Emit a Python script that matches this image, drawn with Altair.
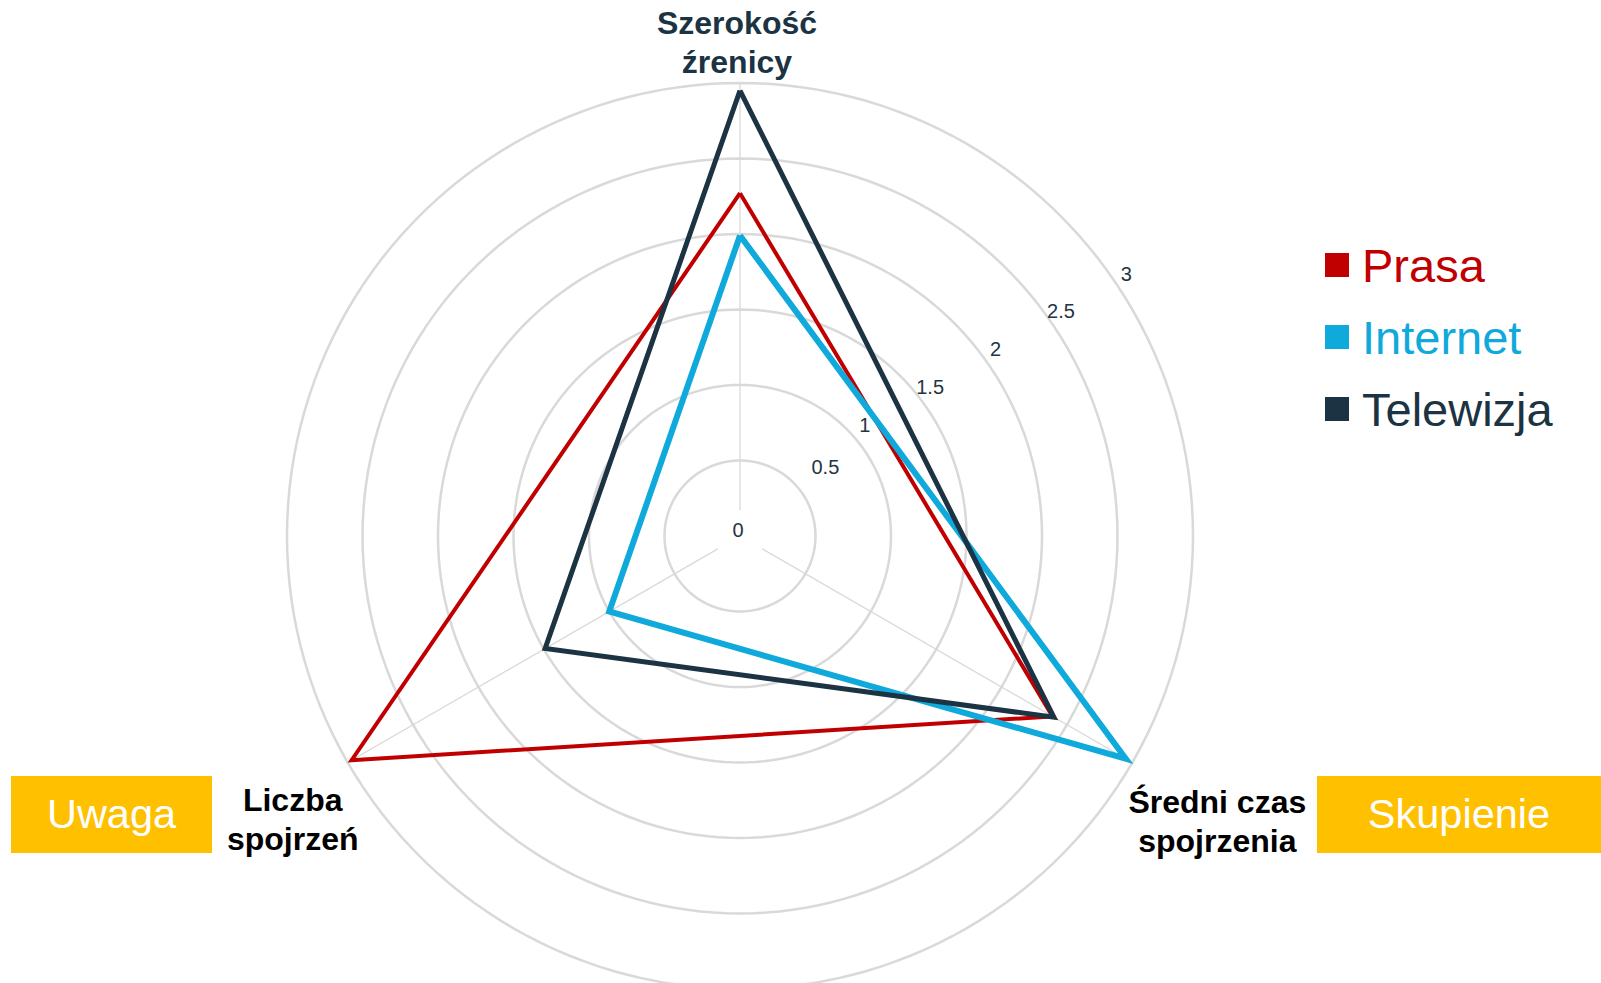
import math
import altair as alt
import pandas as pd

# ---------------- data ----------------
categories = ["Szerokość źrenicy", "Średni czas spojrzenia", "Liczba spojrzeń"]
category_lines = ["Szerokość\nźrenicy", "Średni czas\nspojrzenia", "Liczba\nspojrzeń"]
series = ["Prasa", "Internet", "Telewizja"]
prasa = [2.27, 2.39, 2.97]
internet = [1.99, 2.95, 1.00]
telewizja = [2.95, 2.40, 1.49]
tick_values = [0, 0.5, 1, 1.5, 2, 2.5, 3]
tick_labels = ["0", "0.5", "1", "1.5", "2", "2.5", "3"]
group_labels = ["Uwaga", "Skupienie"]

# ---------------- styling / layout ----------------
colors = ["#C00000", "#0FA9DC", "#1B3342"]
widths = [4, 6, 5]
W, H = 1601, 983
CX, CY = 740, 536      # pixel position of the radar centre
S = 151.0              # pixels per unit
RMAX = 3
FONT = "Liberation Sans"
GRID = "#D9D9D9"

xs = alt.Scale(domain=[-CX / S, (W - CX) / S], nice=False, zero=False)
ys = alt.Scale(domain=[-(H - CY) / S, CY / S], nice=False, zero=False)
angles = [0.0, 120.0, 240.0]  # clockwise from top


def pol(v, deg):
    a = math.radians(deg)
    return v * math.sin(a), v * math.cos(a)


def X(f):
    return alt.X(f, type="quantitative", scale=xs, axis=None)


def Y(f):
    return alt.Y(f, type="quantitative", scale=ys, axis=None)


layers = []

# grid circles
rows = []
for v in tick_values[1:]:
    for k in range(0, 361, 2):
        x, y = pol(v, k)
        rows.append({"ring": v, "k": k, "x": x, "y": y})
rings = pd.DataFrame(rows)
layers.append(
    alt.Chart(rings).mark_line(color=GRID, strokeWidth=2.5, clip=True).encode(
        x=X("x"), y=Y("y"), detail="ring:N", order="k:Q"
    )
)

# spokes
sp = []
for c, a in zip(categories, angles):
    x1, y1 = pol(0.17, a)
    x2, y2 = pol(RMAX, a)
    sp.append({"cat": c, "x": x1, "y": y1, "x2": x2, "y2": y2})
layers.append(
    alt.Chart(pd.DataFrame(sp)).mark_rule(color=GRID, strokeWidth=1.3).encode(
        x=X("x"), y=Y("y"), x2="x2:Q", y2="y2:Q"
    )
)

# tick labels (placed along the 60 degree direction, just above it)
tk = []
for v, lab in zip(tick_values, tick_labels):
    x, y = pol(v, 60)
    tk.append({"v": v, "lab": lab, "x": x, "y": y})
tkdf = pd.DataFrame(tk)
tick_style = dict(font=FONT, fontSize=20, color="#243441", baseline="middle", align="center")
layers.append(
    alt.Chart(tkdf[tkdf.v > 0.5]).mark_text(dx=-6, dy=-35, **tick_style).encode(
        x=X("x"), y=Y("y"), text="lab:N")
)
layers.append(
    alt.Chart(tkdf[tkdf.v == 0.5]).mark_text(dx=20, dy=-30, **tick_style).encode(
        x=X("x"), y=Y("y"), text="lab:N")
)
layers.append(
    alt.Chart(tkdf[tkdf.v == 0]).mark_text(dx=-2, dy=-5, **tick_style).encode(
        x=X("x"), y=Y("y"), text="lab:N")
)

# series polygons
for name, vals, col, w in zip(series, [prasa, internet, telewizja], colors, widths):
    pts = []
    for i, (v, a) in enumerate(zip(vals + vals[:1], angles + angles[:1])):
        x, y = pol(v, a)
        pts.append({"series": name, "o": i, "x": x, "y": y})
    layers.append(
        alt.Chart(pd.DataFrame(pts)).mark_line(
            color=col, strokeWidth=w, strokeJoin="miter", strokeMiterLimit=10
        ).encode(x=X("x"), y=Y("y"), order="o:Q")
    )

# category labels
offsets = [(-3, -49, "#1B3342"), (85, 50, "#000000"), (-55, 48, "#000000")]
for lab, a, (dx, dy, col) in zip(category_lines, angles, offsets):
    x, y = pol(RMAX, a)
    layers.append(
        alt.Chart(pd.DataFrame([{"lab": lab, "x": x, "y": y}])).mark_text(
            font=FONT, fontSize=32, fontWeight="bold", color=col, dx=dx, dy=dy,
            align="center", baseline="alphabetic", lineBreak="\n", lineHeight=39
        ).encode(x=X("x"), y=Y("y"), text="lab:N")
    )

# yellow group boxes
boxes = pd.DataFrame({
    "lab": group_labels,
    "x1": [11, 1317], "x2": [212, 1601],
    "y1": [776, 776], "y2": [853, 853],
})
boxes["xm"] = (boxes.x1 + boxes.x2) / 2
boxes["yb"] = 828
layers.append(
    alt.Chart(boxes).mark_rect(color="#FFC000").encode(
        x=alt.X("x1:Q", scale=None, axis=None), x2="x2:Q",
        y=alt.Y("y1:Q", scale=None, axis=None), y2="y2:Q"
    )
)
layers.append(
    alt.Chart(boxes).mark_text(font=FONT, fontSize=41.5, color="white", align="center",
                               baseline="alphabetic").encode(
        x=alt.X("xm:Q", scale=None, axis=None), y=alt.Y("yb:Q", scale=None, axis=None),
        text="lab:N"
    )
)

# custom legend
leg = pd.DataFrame({"series": series, "col": colors})
leg["sy"] = [265 + 72 * i for i in range(len(series))]
leg["ty"] = leg["sy"] + 17
leg["sx"] = 1337
leg["tx"] = 1362
cscale = alt.Scale(domain=series, range=colors)
layers.append(
    alt.Chart(leg).mark_square(size=576, opacity=1).encode(
        x=alt.X("sx:Q", scale=None, axis=None), y=alt.Y("sy:Q", scale=None, axis=None),
        color=alt.Color("series:N", scale=cscale, legend=None)
    )
)
layers.append(
    alt.Chart(leg).mark_text(font=FONT, fontSize=47, align="left", baseline="alphabetic").encode(
        x=alt.X("tx:Q", scale=None, axis=None), y=alt.Y("ty:Q", scale=None, axis=None),
        text="series:N", color=alt.Color("series:N", scale=cscale, legend=None)
    )
)

chart = alt.layer(*layers).resolve_scale(x="independent", y="independent").properties(
    width=W, height=H, padding=0, autosize=alt.AutoSizeParams(type="none"), background="white"
).configure_view(stroke=None)

chart.save("out.html", embed_options={"renderer": "svg", "actions": False})
